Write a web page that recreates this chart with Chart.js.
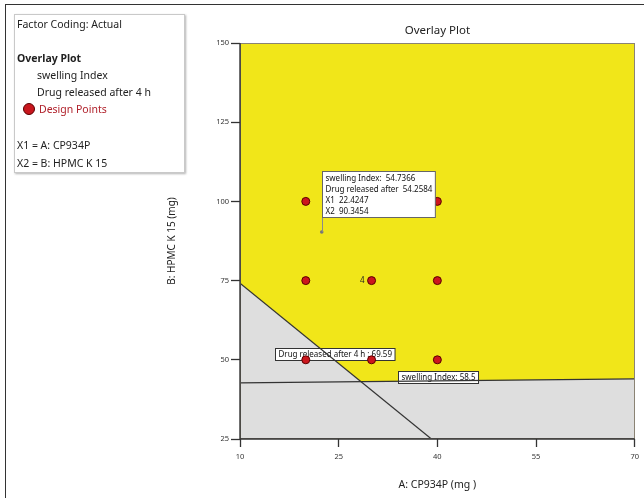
<!DOCTYPE html>
<html>
<head>
<meta charset="utf-8">
<script src="https://cdn.jsdelivr.net/npm/chart.js@4.4.0/dist/chart.umd.min.js"></script>
<style>
  html, body { margin: 0; padding: 0; background: #fff; }
  #page { position: relative; width: 644px; height: 498px; overflow: hidden; font-family: "Noto Sans", sans-serif; }
  #frame { position: absolute; left: 5px; top: 4px; right: -3px; bottom: -3px; border-top: 1px solid #333; border-left: 1px solid #333; }
  #c { position: absolute; left: 0; top: 0; }
  #legend { position: absolute; left: 14px; top: 14px; width: 169px; height: 157px; border: 1px solid #c9c9c9;
            box-shadow: 1px 1px 2px rgba(0,0,0,0.3); background: #fff; font-size: 10.5px; color: #222; }
  #legend div { position: absolute; white-space: nowrap; line-height: 12px; }
  #legend .dot { width: 10px; height: 10px; border-radius: 50%; background: #c8161d; border: 1px solid #5a0000; }
</style>
</head>
<body>
<div id="page">
  <canvas id="c" width="644" height="498"></canvas>
  <div id="frame"></div>
  <div id="legend">
    <div style="left:2px;top:3px">Factor Coding: Actual</div>
    <div style="left:2px;top:37px;font-weight:bold">Overlay Plot</div>
    <div style="left:22px;top:54px">swelling Index</div>
    <div style="left:22px;top:71px">Drug released after 4 h</div>
    <div class="dot" style="left:8px;top:88px"></div>
    <div style="left:24px;top:88px;color:#b0202a">Design Points</div>
    <div style="left:2px;top:124px">X1 = A: CP934P</div>
    <div style="left:2px;top:142px">X2 = B: HPMC K 15</div>
  </div>
</div>
<script>
// Axis ticks
const xTicks = [10, 25, 40, 55, 70];
const yTicks = [25, 50, 75, 100, 125, 150];

// Design points (A: CP934P mg, B: HPMC K 15 mg) and replicate counts
const designA = [20, 40, 20, 30, 40, 20, 30, 40];
const designB = [100, 100, 75, 75, 75, 50, 50, 50];
const replicates = [1, 1, 1, 4, 1, 1, 1, 1];

// Contour: swelling Index = 58.5
const swellingLevel = 58.5;
const swellingA = [10, 70];
const swellingB = [42.7, 44.0];

// Contour: Drug released after 4 h = 69.59
const drugLevel = 69.59;
const drugA = [10, 39.1];
const drugB = [74.2, 25];

// Lower edge of the region meeting both criteria
const regionA = [10, 28.4, 70];
const regionB = [74.2, 43.1, 44.0];

// Flagged point
const flagA = [22.4247];
const flagB = [90.3454];
const flagSwelling = [54.7366];
const flagDrug = [54.2584];

const pts = (xs, ys) => xs.map((x, i) => ({ x: x, y: ys[i] }));

const YELLOW = '#f1e619';
const GRAY = '#dedede';
const FONT = '"Noto Sans", sans-serif';

function labelBox(ctx, text, cx, cy) {
  ctx.save();
  ctx.font = '8px ' + FONT;
  const w = ctx.measureText(text).width + 6;
  const h = 12;
  const x = Math.round(cx - w / 2) + 0.5, y = Math.round(cy - h / 2) + 0.5;
  ctx.fillStyle = '#fff';
  ctx.fillRect(x, y, w, h);
  ctx.strokeStyle = '#333';
  ctx.lineWidth = 1;
  ctx.strokeRect(x, y, w, h);
  ctx.fillStyle = '#111';
  ctx.textBaseline = 'middle';
  ctx.textAlign = 'left';
  ctx.fillText(text, x + 3, y + h / 2 + 0.5);
  ctx.restore();
}

const overlayPlugin = {
  id: 'overlay',
  beforeDraw(chart) {
    const a = chart.chartArea, ctx = chart.ctx;
    ctx.save();
    ctx.fillStyle = GRAY;
    ctx.fillRect(a.left, a.top, a.right - a.left, a.bottom - a.top);
    ctx.restore();
  },
  afterDatasetDraw(chart, args) {
    if (args.index !== 0) return;
    const sx = chart.scales.x, sy = chart.scales.y;
    labelBox(chart.ctx, 'Drug released after 4 h : ' + drugLevel,
      sx.getPixelForValue(24.4), sy.getPixelForValue(51.7));
    labelBox(chart.ctx, 'swelling Index: ' + swellingLevel,
      sx.getPixelForValue(40.1), sy.getPixelForValue(44.7));
  },
  afterDatasetsDraw(chart) {
    const ctx = chart.ctx, a = chart.chartArea;
    const sx = chart.scales.x, sy = chart.scales.y;
    // plot frame
    ctx.save();
    ctx.strokeStyle = '#8a8374';
    ctx.lineWidth = 1;
    ctx.strokeRect(Math.round(a.left) + 0.5, Math.round(a.top) + 0.5,
      Math.round(a.right - a.left) - 1, Math.round(a.bottom - a.top) - 1);
    ctx.strokeStyle = '#333';
    ctx.lineWidth = 1.4;
    ctx.beginPath();
    ctx.moveTo(a.left, a.top);
    ctx.lineTo(a.left, a.bottom);
    ctx.lineTo(a.right, a.bottom);
    ctx.stroke();
    ctx.restore();

    // replicate counts
    ctx.save();
    ctx.font = '8px ' + FONT;
    ctx.fillStyle = '#222';
    ctx.textAlign = 'right';
    ctx.textBaseline = 'middle';
    replicates.forEach((n, i) => {
      if (n > 1) ctx.fillText(String(n), sx.getPixelForValue(designA[i]) - 7, sy.getPixelForValue(designB[i]));
    });
    ctx.restore();

    // flag box for the selected point
    const px = sx.getPixelForValue(flagA[0]), py = sy.getPixelForValue(flagB[0]);
    const lines = [
      'swelling Index:  ' + flagSwelling[0],
      'Drug released after  ' + flagDrug[0],
      'X1  ' + flagA[0],
      'X2  ' + flagB[0]
    ];
    ctx.save();
    ctx.font = '8px ' + FONT;
    const w = Math.max(...lines.map(t => ctx.measureText(t).width)) + 6;
    const h = 46;
    const bx = Math.round(px) + 0.5, by = Math.round(py - 15 - h) + 0.5;
    ctx.strokeStyle = '#8a8a8a';
    ctx.lineWidth = 1;
    ctx.beginPath();
    ctx.moveTo(bx, by + h);
    ctx.lineTo(bx, py);
    ctx.stroke();
    ctx.fillStyle = '#fff';
    ctx.fillRect(bx, by, w, h);
    ctx.strokeStyle = '#666';
    ctx.strokeRect(bx, by, w, h);
    ctx.fillStyle = '#111';
    ctx.textBaseline = 'middle';
    lines.forEach((t, i) => ctx.fillText(t, bx + 3, by + 7 + i * 11));
    ctx.restore();
  }
};

new Chart(document.getElementById('c'), {
  type: 'scatter',
  data: {
    datasets: [
      {
        // region satisfying both constraints
        data: pts(regionA, regionB),
        showLine: true,
        fill: 'end',
        backgroundColor: YELLOW,
        borderWidth: 0,
        pointRadius: 0,
        order: 4
      },
      {
        data: pts(swellingA, swellingB),
        showLine: true,
        borderColor: '#333',
        borderWidth: 1.2,
        pointRadius: 0,
        order: 3
      },
      {
        data: pts(drugA, drugB),
        showLine: true,
        borderColor: '#333',
        borderWidth: 1.2,
        pointRadius: 0,
        order: 2
      },
      {
        data: pts(flagA, flagB),
        pointRadius: 1.8,
        pointBackgroundColor: '#777',
        pointBorderWidth: 0,
        order: 1
      },
      {
        data: pts(designA, designB),
        pointRadius: 4,
        pointBackgroundColor: '#cc161d',
        pointBorderColor: '#5a0000',
        pointBorderWidth: 1,
        order: 0
      }
    ]
  },
  options: {
    responsive: false,
    animation: false,
    events: [],
    layout: { padding: { left: 160, top: 20, right: 8, bottom: 0 } },
    plugins: {
      legend: { display: false },
      tooltip: { enabled: false },
      title: {
        display: true,
        text: 'Overlay Plot',
        fullSize: false,
        color: '#222',
        font: { family: FONT, size: 11.5, weight: 'normal' },
        padding: { top: 4, bottom: 5.2 }
      }
    },
    scales: {
      x: {
        type: 'linear',
        min: 10, max: 70,
        afterBuildTicks: s => { s.ticks = xTicks.map(v => ({ value: v })); },
        afterFit: s => { s.height = 59; },
        border: { display: false },
        grid: { drawOnChartArea: false, drawTicks: true, tickLength: 8, color: '#333', tickWidth: 1.3 },
        ticks: { color: '#333', font: { family: FONT, size: 7.5 }, padding: 5, maxRotation: 0, autoSkip: false },
        title: { display: true, text: 'A: CP934P (mg )', color: '#222', font: { family: FONT, size: 10.5 }, padding: { top: 0, bottom: 6.7 } }
      },
      y: {
        type: 'linear',
        min: 25, max: 150,
        afterBuildTicks: s => { s.ticks = yTicks.map(v => ({ value: v })); },
        afterFit: s => { s.width = 80; },
        border: { display: false },
        grid: { drawOnChartArea: false, drawTicks: true, tickLength: 9, color: '#333', tickWidth: 1.3 },
        ticks: { color: '#333', font: { family: FONT, size: 7.5 }, padding: 2, autoSkip: false },
        title: { display: true, text: 'B: HPMC K 15 (mg)', color: '#222', font: { family: FONT, size: 10 }, padding: { top: 6, bottom: 0 } }
      }
    }
  },
  plugins: [overlayPlugin]
});
</script>
</body>
</html>
